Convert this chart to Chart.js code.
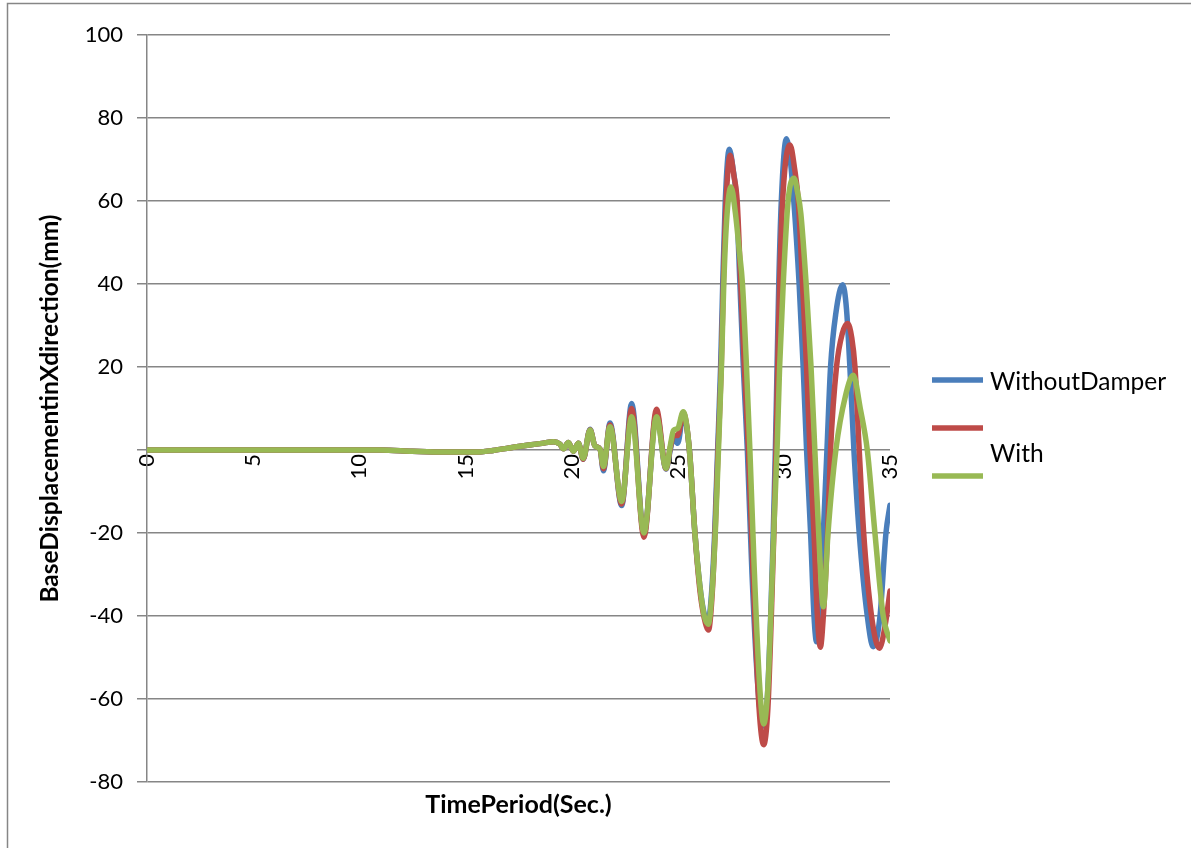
<!DOCTYPE html>
<html><head><meta charset="utf-8">
<script src="https://cdn.jsdelivr.net/npm/chart.js@4.4.0/dist/chart.umd.min.js"></script>
<style>html,body{margin:0;padding:0;background:#fff;} canvas{display:block;}</style>
</head><body>
<canvas id="c" width="1191" height="848"></canvas>
<script>
// ---- data (seconds, mm) ----
const seriesNames = ['WithoutDamper', '', 'With'];
const xTitle = 'TimePeriod(Sec.)';
const yTitle = 'BaseDisplacementinXdirection(mm)';

const tEarly = [0, 4, 8, 11, 12.5, 14, 15.5, 16.3, 17.2, 18, 18.6, 19.15, 19.45, 19.62, 19.85, 20.08, 20.32, 20.55, 20.87, 21.1, 21.34, 21.5, 21.81, 22.36, 22.83, 23.41, 24.0, 24.45, 24.65, 24.8, 25.0, 25.26];
const withoutEarly = [0, 0, 0, 0, -0.3, -0.5, -0.5, -0.1, 0.6, 1.2, 1.6, 2.0, 1.4, 0.3, 1.8, -0.3, 1.6, -2.2, 5.0, 1.0, 0.2, -5.0, 6.5, -13.4, 11.2, -20.3, 9.0, -4.6, 0.0, 3.0, 1.6, 8.5];
const redEarly = [0, 0, 0, 0, -0.3, -0.5, -0.5, -0.1, 0.6, 1.2, 1.6, 2.0, 1.4, 0.3, 1.8, -0.3, 1.6, -2.2, 4.9, 1.0, 0.2, -4.5, 6.0, -13.0, 10.0, -21.0, 9.8, -4.5, 0.5, 3.5, 3.5, 9.0];
const withEarly = [0, 0, 0, 0, -0.3, -0.5, -0.5, -0.1, 0.6, 1.2, 1.6, 2.0, 1.4, 0.3, 1.8, -0.3, 1.6, -2.0, 4.8, 1.0, 0.2, -4.0, 5.6, -12.4, 8.0, -20.0, 8.0, -4.4, 1.0, 4.7, 5.2, 9.2];

const tWithoutLate = [25.55, 25.81, 26.05, 26.25, 26.42, 26.6, 26.74, 26.88, 27.02, 27.12, 27.24, 27.43, 27.6, 27.77, 27.93, 28.09, 28.28, 28.5, 28.79, 29.03, 29.22, 29.38, 29.5, 29.6, 29.68, 29.76, 29.88, 30.12, 30.3, 30.47, 30.72, 30.91, 31.07, 31.26, 31.42, 31.54, 31.68, 31.86, 32.03, 32.2, 32.45, 32.77, 32.95, 33.11, 33.3, 33.55, 33.93, 34.21, 34.53, 34.81, 35.0];
const withoutLate = [0, -20, -33, -39.5, -41.5, -34, -20, 0, 20, 40, 60, 72.5, 68, 60, 40, 20, 0, -30, -58, -66.5, -60, -40, -20, 0, 20, 40, 60, 75, 70, 60, 40, 20, 0, -20, -40, -46.2, -40, -20, 0, 20, 33, 39.8, 34, 20, 0, -20, -40, -47.4, -40, -20, -13.3];

const tRedLate = [25.55, 25.81, 26.05, 26.25, 26.45, 26.62, 26.76, 26.9, 27.05, 27.15, 27.28, 27.47, 27.65, 27.8, 27.97, 28.14, 28.33, 28.55, 28.83, 29.05, 29.25, 29.41, 29.53, 29.63, 29.71, 29.8, 29.94, 30.29, 30.5, 30.68, 30.88, 31.07, 31.23, 31.42, 31.58, 31.72, 31.86, 32.06, 32.2, 32.48, 32.75, 33.0, 33.2, 33.35, 33.55, 33.76, 34.13, 34.5, 34.78, 35.0];
const redLate = [0, -20, -34, -40.5, -43.4, -35, -20, 0, 20, 40, 60, 71, 66, 60, 40, 20, 0, -30, -62, -71, -62, -40, -20, 0, 20, 40, 60, 73.5, 68, 60, 40, 20, 0, -20, -40, -47.5, -40, -20, 0, 20, 28, 30.5, 27, 20, 0, -20, -40, -47.8, -42, -34];

const tWithLate = [25.55, 25.81, 26.05, 26.25, 26.44, 26.62, 26.77, 26.92, 27.06, 27.17, 27.3, 27.51, 27.72, 27.9, 28.05, 28.24, 28.4, 28.6, 28.85, 29.05, 29.25, 29.42, 29.56, 29.68, 29.8, 29.97, 30.2, 30.48, 30.65, 30.8, 31.05, 31.28, 31.46, 31.64, 31.86, 32.08, 32.45, 32.9, 33.27, 33.6, 33.93, 34.29, 34.68, 35.0];
const withLate = [0, -20, -33, -40, -42, -34, -20, 0, 20, 40, 55, 63.4, 57, 48, 40, 20, 0, -28, -56, -66, -57, -35, -15, 0, 20, 40, 60, 65.5, 62, 57, 40, 20, 0, -20, -37.8, -20, 0, 13, 18, 10, 0, -20, -40, -46];

const timeWithout = tEarly.concat(tWithoutLate);
const valWithout = withoutEarly.concat(withoutLate);
const timeRed = tEarly.concat(tRedLate);
const valRed = redEarly.concat(redLate);
const timeWith = tEarly.concat(tWithLate);
const valWith = withEarly.concat(withLate);

const toPts = (t, v) => t.map((x, i) => ({x: x, y: v[i]}));

const FONT = 'Lato';
const colors = ['#4A7EBB', '#BE4B48', '#98B954'];

const decor = {
  id: 'decor',
  beforeDraw(chart) {
    const ctx = chart.ctx;
    ctx.save();
    ctx.fillStyle = '#fff';
    ctx.fillRect(0, 0, chart.width, chart.height);
    ctx.strokeStyle = '#868686';
    ctx.lineWidth = 1.5;
    ctx.beginPath();
    ctx.moveTo(7.5, chart.height);
    ctx.lineTo(7.5, 3.5);
    ctx.lineTo(chart.width, 3.5);
    ctx.stroke();
    ctx.restore();
  },
  afterDraw(chart) {
    const ctx = chart.ctx;
    const ds = chart.data.datasets;
    const lineY = [380, 428, 476];
    const textY = [382, null, 454];
    ctx.save();
    ctx.font = '24.5px ' + FONT;
    ctx.fillStyle = '#000';
    ctx.textBaseline = 'middle';
    ctx.textAlign = 'left';
    ds.forEach((d, i) => {
      ctx.strokeStyle = d.borderColor;
      ctx.lineWidth = 5.5;
      ctx.beginPath();
      ctx.moveTo(932, lineY[i]);
      ctx.lineTo(983, lineY[i]);
      ctx.stroke();
    });
    ctx.fillText(seriesNames[0], 990, textY[0]);
    ctx.fillText(seriesNames[2], 990, textY[2]);
    ctx.restore();
  }
};

const mk = (label, t, v, c, ord) => ({
  label: label, data: toPts(t, v), borderColor: c, backgroundColor: c, order: ord,
  borderWidth: 5.5, pointRadius: 0, cubicInterpolationMode: 'monotone',
  borderCapStyle: 'round', borderJoinStyle: 'round', fill: false
});

new Chart(document.getElementById('c'), {
  type: 'line',
  data: {
    datasets: [
      mk(seriesNames[0], timeWithout, valWithout, colors[0], 3),
      mk(seriesNames[1], timeRed, valRed, colors[1], 2),
      mk(seriesNames[2], timeWith, valWith, colors[2], 1)
    ]
  },
  options: {
    responsive: false, animation: false, devicePixelRatio: 1,
    layout: {padding: {top: 35, right: 301, bottom: 0, left: 0}},
    plugins: {legend: {display: false}, tooltip: {enabled: false}},
    scales: {
      x: {
        type: 'linear', position: {y: 0}, min: 0, max: 35,
        ticks: {stepSize: 5, minRotation: 90, maxRotation: 90, padding: 4, autoSkip: false,
                color: '#000', font: {family: FONT, size: 22}},
        grid: {display: false, drawTicks: false},
        border: {display: false}
      },
      xt: {
        type: 'linear', position: 'bottom', min: 0, max: 35,
        ticks: {display: false},
        grid: {display: false, drawTicks: false},
        border: {display: false},
        title: {display: true, text: xTitle, color: '#000',
                font: {family: FONT, size: 25, weight: 'bold'}, padding: {top: 0, bottom: 28}},
        afterFit(s) { s.height = 66; }
      },
      y: {
        type: 'linear', min: -80, max: 100,
        ticks: {stepSize: 20, color: '#000', font: {family: FONT, size: 22}, padding: 14,
                callback: (v) => v === 0 ? '' : v},
        grid: {color: '#868686', lineWidth: 1.5, tickLength: 10, drawTicks: true},
        border: {display: true, color: '#868686', width: 1.5},
        title: {display: true, text: yTitle, color: '#000',
                font: {family: FONT, size: 24.5, weight: 'bold'}, padding: {top: 35, bottom: 0}},
        afterFit(s) { s.width = 147; }
      }
    }
  },
  plugins: [decor]
});
</script>
</body></html>
